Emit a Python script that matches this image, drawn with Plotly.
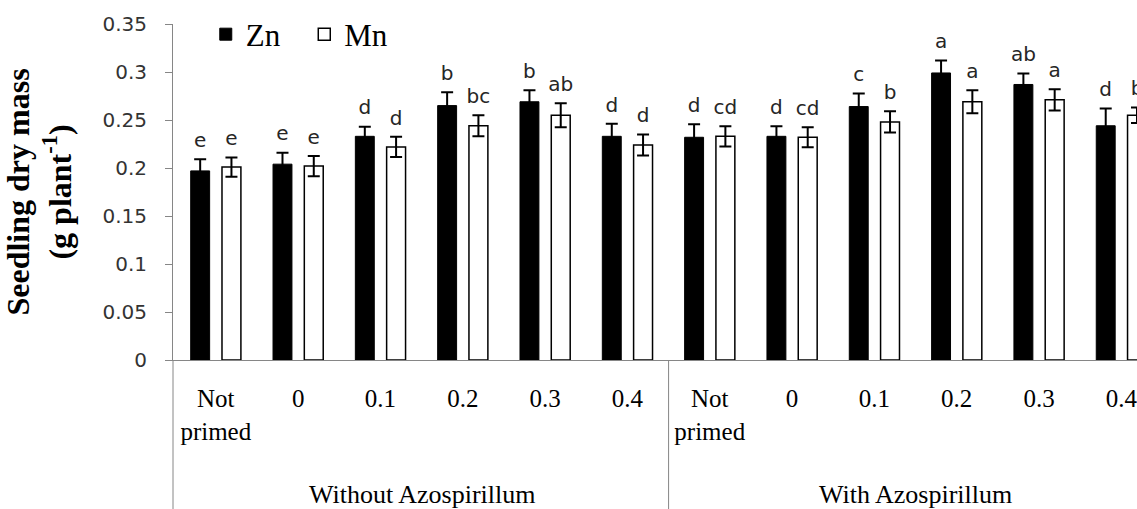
import plotly.graph_objects as go

# ---- data ----
groups = ["Without Azospirillum", "With Azospirillum"]
levels = ["Not<br>primed", "0", "0.1", "0.2", "0.3", "0.4"]
tick_labels = levels + levels

zn = [0.197, 0.204, 0.233, 0.265, 0.269, 0.233, 0.232, 0.233, 0.264, 0.299, 0.287, 0.244]
zn_err = [0.012, 0.012, 0.010, 0.014, 0.012, 0.013, 0.0135, 0.0105, 0.0135, 0.013, 0.0115, 0.018]
zn_letters = ["e", "e", "d", "b", "b", "d", "d", "d", "c", "a", "ab", "d"]

mn = [0.201, 0.202, 0.222, 0.244, 0.255, 0.224, 0.233, 0.232, 0.248, 0.269, 0.271, 0.255]
mn_err = [0.010, 0.0105, 0.0105, 0.011, 0.0125, 0.011, 0.0105, 0.0105, 0.011, 0.012, 0.011, 0.008]
mn_letters = ["e", "e", "d", "bc", "ab", "d", "cd", "cd", "b", "a", "a", "b"]

y_ticks = [0, 0.05, 0.1, 0.15, 0.2, 0.25, 0.3, 0.35]

x = list(range(len(tick_labels)))
x_range = [-0.52, 11.19]
axis_grey = "#868686"
serif = "Liberation Serif, Times New Roman, serif"
sans = "DejaVu Sans, sans-serif"

fig = go.Figure()
fig.add_trace(go.Bar(
    x=x, y=zn, name="Zn", offsetgroup="zn",
    marker=dict(color="black", line=dict(color="black", width=1)),
    error_y=dict(type="data", array=zn_err, visible=True, color="black", thickness=2, width=6),
))
fig.add_trace(go.Bar(
    x=x, y=mn, name="Mn", offsetgroup="mn",
    marker=dict(color="white", line=dict(color="black", width=1.5)),
    error_y=dict(type="data", array=mn_err, visible=True, color="black", thickness=2, width=6),
))
for vals, errs, letters, grp in [(zn, zn_err, zn_letters, "zn"), (mn, mn_err, mn_letters, "mn")]:
    fig.add_trace(go.Scatter(
        x=x, y=[v + e for v, e in zip(vals, errs)], mode="markers+text", text=letters,
        marker=dict(size=10, color="rgba(0,0,0,0)"),
        textposition="top center", textfont=dict(family=sans, size=20, color="#262626"),
        showlegend=False, offsetgroup=grp, hoverinfo="skip",
    ))

def to_paper(v):
    return (v - x_range[0]) / (x_range[1] - x_range[0])

bottom = -149 / 336
shapes = [
    dict(type="line", xref="paper", yref="paper", x0=0, x1=0, y0=0, y1=bottom,
         line=dict(color=axis_grey, width=1)),
    dict(type="line", xref="paper", yref="paper", x0=to_paper(5.5), x1=to_paper(5.5), y0=0, y1=bottom,
         line=dict(color=axis_grey, width=1)),
]

annotations = [
    dict(text=groups[0], x=2.5, xref="x", y=-0.399, yref="paper", showarrow=False,
         yanchor="middle", font=dict(family=serif, size=26, color="black")),
    dict(text=groups[1], x=8.5, xref="x", y=-0.399, yref="paper", showarrow=False,
         yanchor="middle", font=dict(family=serif, size=26, color="black")),
]

fig.update_layout(
    width=1137, height=509,
    margin=dict(l=173, r=0, t=24, b=149, pad=0, autoexpand=False),
    paper_bgcolor="white", plot_bgcolor="white",
    barmode="group", bargap=0.24, bargroupgap=0.395,
    scattermode="group", scattergap=0.24,
    shapes=shapes, annotations=annotations,
    legend=dict(orientation="h", x=0.034, y=1.049, xanchor="left", yanchor="top",
                font=dict(family=serif, size=31, color="black"),
                bgcolor="rgba(0,0,0,0)", entrywidth=53.5, traceorder="normal"),
    xaxis=dict(range=x_range, tickvals=x, ticktext=tick_labels, showline=True, automargin=False,
               linecolor=axis_grey, linewidth=1, ticks="", showgrid=False, zeroline=False,
               ticklabeloverflow="allow",
               tickfont=dict(family=serif, size=25, color="black"), ticklabelstandoff=16),
    yaxis=dict(range=[0, 0.35], tickvals=y_ticks, ticks="outside", ticklen=7, tickcolor=axis_grey,
               showline=True, linecolor=axis_grey, linewidth=1, showgrid=False, zeroline=False,
               automargin=False,
               tickfont=dict(family=sans, size=20, color="#333333"), ticklabelstandoff=14,
               title=dict(text="<b>Seedling dry mass<br>(g plant<sup>-1</sup>)</b>",
                          font=dict(family=serif, size=32, color="black"), standoff=22)),
)

fig.write_html("out.html", config={"displayModeBar": False},
               post_script="document.body.style.margin='0';")
